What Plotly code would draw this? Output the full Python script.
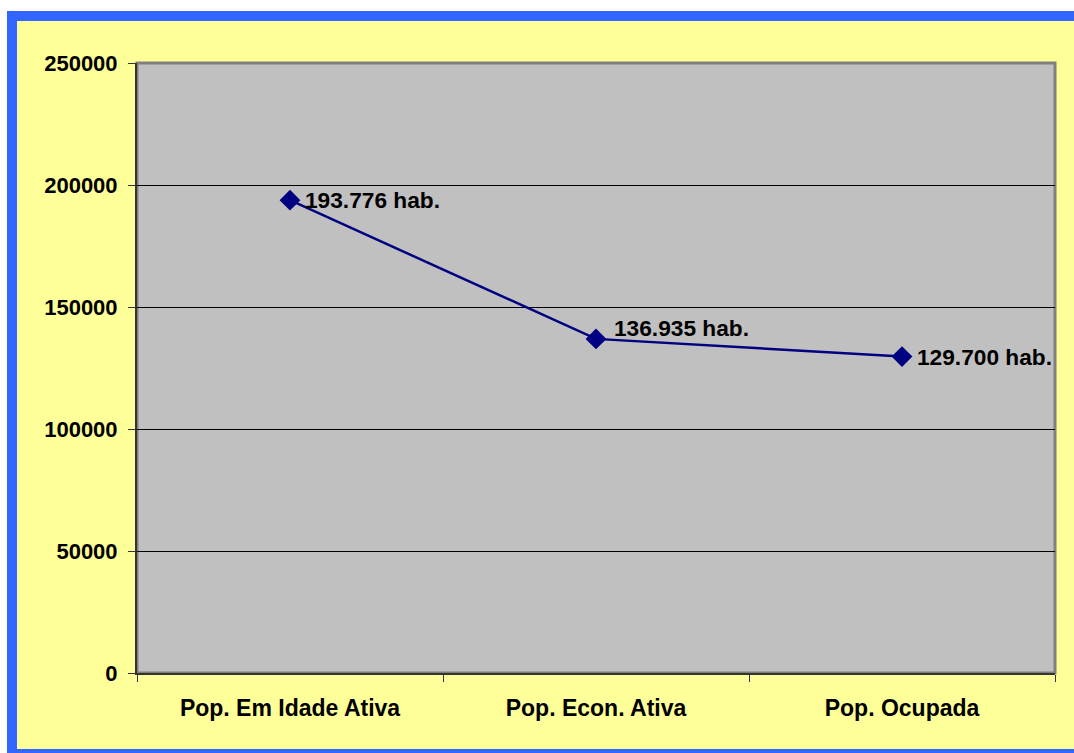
import plotly.graph_objects as go

categories = ["Pop. Em Idade Ativa", "Pop. Econ. Ativa", "Pop. Ocupada"]
values = [193776, 136935, 129700]
labels = ["193.776 hab.", "136.935 hab.", "129.700 hab."]
y_ticks = [0, 50000, 100000, 150000, 200000, 250000]

W, H = 1074, 753
L, R, T, B = 137, 19, 63, 80
PW, PH = W - L - R, H - T - B

def px_x(px):
    return (px - L) / PW

def px_y(py):
    return (H - B - py) / PH

FAMILY = "Liberation Sans, Arial, sans-serif"
FONT_Y = dict(family=FAMILY, size=22, color="black", weight="bold")
FONT_X = dict(family=FAMILY, size=23, color="black", weight="bold")
FONT_LBL = dict(family=FAMILY, size=22.7, color="black", weight="bold")

fig = go.Figure()
fig.add_trace(go.Scatter(
    x=categories, y=values, mode="lines+markers",
    line=dict(color="#000080", width=2.5),
    marker=dict(symbol="diamond", size=16, color="#000080"),
    hoverinfo="skip", showlegend=False,
))

label_xshift = [13, 16, 13]
label_yshift = [0, 11, 0]
annotations = []
for c, v, t, xs, ys in zip(categories, values, labels, label_xshift, label_yshift):
    annotations.append(dict(x=c, y=v, text=t, showarrow=False, xanchor="left",
                            yanchor="middle", xshift=xs, yshift=ys, font=FONT_LBL))

shapes = [
    dict(type="rect", xref="paper", yref="paper", layer="below",
         x0=px_x(7), x1=px_x(W), y0=px_y(11), y1=px_y(H),
         fillcolor="#3366FF", line=dict(width=0)),
    dict(type="rect", xref="paper", yref="paper", layer="below",
         x0=px_x(17), x1=px_x(W), y0=px_y(21), y1=px_y(749),
         fillcolor="#FFFF99", line=dict(width=0)),
    dict(type="rect", xref="paper", yref="paper", layer="below",
         x0=0, x1=1, y0=0, y1=1,
         fillcolor="#C0C0C0", line=dict(color="#808080", width=3)),
]

fig.update_layout(
    width=W, height=H,
    margin=dict(l=L, r=R, t=T, b=B, pad=0),
    paper_bgcolor="white", plot_bgcolor="rgba(0,0,0,0)",
    font=FONT_Y,
    shapes=shapes, annotations=annotations,
    xaxis=dict(type="category", range=[-0.5, 2.5], showgrid=False,
               ticks="outside", tickson="boundaries", ticklen=7, tickcolor="#333333",
               showline=True, linecolor="#333333", linewidth=2,
               ticklabelstandoff=13, tickfont=FONT_X, zeroline=False, fixedrange=True),
    yaxis=dict(range=[0, 250000], tickvals=y_ticks, tickformat="d",
               showgrid=True, gridcolor="black", gridwidth=1,
               ticks="outside", ticklen=7, tickcolor="#333333",
               showline=True, linecolor="#333333", linewidth=2,
               ticklabelstandoff=6, tickfont=FONT_Y, zeroline=False, fixedrange=True),
)

fig.write_html("out.html", config={"displayModeBar": False},
               post_script="document.body.style.margin='0';document.body.style.overflow='hidden';")
